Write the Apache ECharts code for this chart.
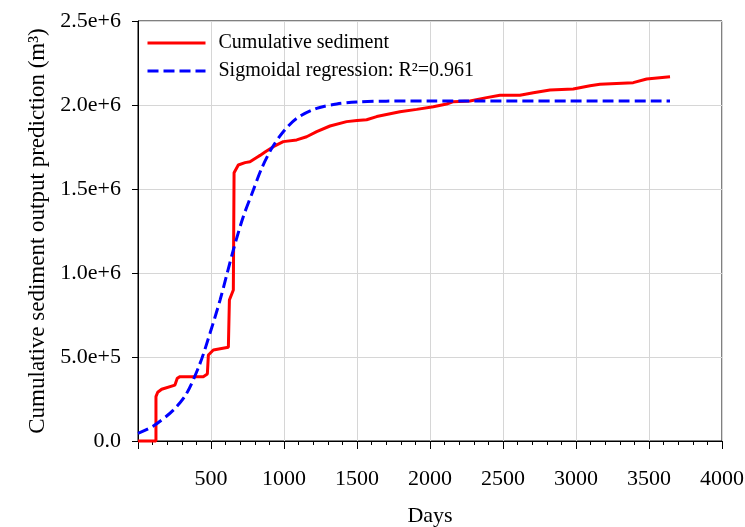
<!DOCTYPE html>
<html>
<head>
<meta charset="utf-8">
<script src="https://cdn.jsdelivr.net/npm/echarts@6/dist/echarts.min.js"></script>
<style>html,body{margin:0;padding:0;background:#fff}#c{width:745px;height:527px}</style>
</head>
<body>
<div id="c"></div>
<script>
// Cumulative sediment (observed), [day, m3]
var sedimentDays = [0,123,123,135,162,253,262,269,288,447,475,482,516,619,626,653,658,687,733,767,813,836,870,927,995,1087,1155,1224,1315,1429,1500,1566,1635,1794,1909,2023,2114,2160,2274,2388,2479,2616,2708,2822,2981,3096,3164,3392,3484,3644];
var sedimentValues = [0,0,264000,290000,308000,333000,340000,373000,383000,383000,399000,512000,542000,558000,839000,899000,1597000,1643000,1657000,1662000,1688000,1700000,1720000,1752000,1782000,1792000,1811000,1841000,1875000,1901000,1908000,1912000,1931000,1960000,1974000,1990000,2006000,2020000,2024000,2044000,2058000,2058000,2073000,2089000,2095000,2115000,2123000,2133000,2155000,2168000];
// Sigmoidal regression
var sigmoidDays = [0,105,242,333,425,493,562,653,721,790,847,916,995,1087,1224,1361,1498,1700,2000,3644];
var sigmoidValues = [46000,89000,184000,283000,462000,641000,839000,1137000,1335000,1494000,1623000,1742000,1841000,1921000,1980000,2006000,2018000,2023000,2024000,2024000];
var seriesNames = ['Cumulative sediment', 'Sigmoidal regression: R\u00b2=0.961'];
var xTicks = [0,500,1000,1500,2000,2500,3000,3500,4000];
var yTicks = [0,500000,1000000,1500000,2000000,2500000];

function pairs(a,b){return a.map(function(v,i){return [v,b[i]];});}
var font = '"Liberation Serif","Times New Roman",serif';
var chart = echarts.init(document.getElementById('c'));
chart.setOption({
  animation:false,
  textStyle:{fontFamily:font},
  grid:{left:138,right:23,top:21,bottom:86,outerBoundsMode:'none',containLabel:false,show:true,borderColor:'#000',borderWidth:1,backgroundColor:'transparent'},
  legend:{
    left:146,top:33,orient:'vertical',itemWidth:58,itemHeight:14,itemGap:8,
    padding:0,
    textStyle:{fontFamily:font,fontSize:20,color:'#000',padding:[0,0,0,8]},
    itemStyle:{opacity:0},
    lineStyle:{width:3},
    data:seriesNames
  },
  xAxis:{
    type:'value',min:xTicks[0],max:xTicks[xTicks.length-1],interval:500,
    name:'Days',nameLocation:'middle',nameGap:64,
    nameTextStyle:{fontFamily:font,fontSize:22,color:'#000'},
    axisLine:{show:true,onZero:false,lineStyle:{color:'#000',width:1}},
    axisTick:{show:true,length:8,lineStyle:{color:'#000'}},
    minorTick:{show:true,splitNumber:5,length:4,lineStyle:{color:'#000'}},
    axisLabel:{fontFamily:font,fontSize:22,color:'#000',margin:27,
      formatter:function(v){return v===0?'':String(v);}},
    splitLine:{show:true,lineStyle:{color:'#d6d6d6',width:1}}
  },
  yAxis:{
    type:'value',min:yTicks[0],max:yTicks[yTicks.length-1],interval:500000,
    name:'Cumulative sediment output prediction (m\u00b3)',nameLocation:'middle',nameGap:86,nameRotate:90,
    nameTextStyle:{fontFamily:font,fontSize:23,color:'#000'},
    axisLine:{show:true,lineStyle:{color:'#000',width:1}},
    axisTick:{show:true,length:6,lineStyle:{color:'#000'}},
    axisLabel:{fontFamily:font,fontSize:22,color:'#000',margin:17,
      formatter:function(v){return v===0?'0.0':v.toExponential(1);}},
    splitLine:{show:true,lineStyle:{color:'#d6d6d6',width:1}}
  },
  series:[
    {name:seriesNames[0],type:'line',data:pairs(sedimentDays,sedimentValues),symbol:'none',clip:false,
      lineStyle:{color:'#ff0000',width:3},itemStyle:{color:'#ff0000'},z:3},
    {name:seriesNames[1],type:'line',data:pairs(sigmoidDays,sigmoidValues),symbol:'none',smooth:0.3,
      lineStyle:{color:'#0000ff',width:3,type:[11,5]},itemStyle:{color:'#0000ff'},z:4}
  ]
});
</script>
</body>
</html>
